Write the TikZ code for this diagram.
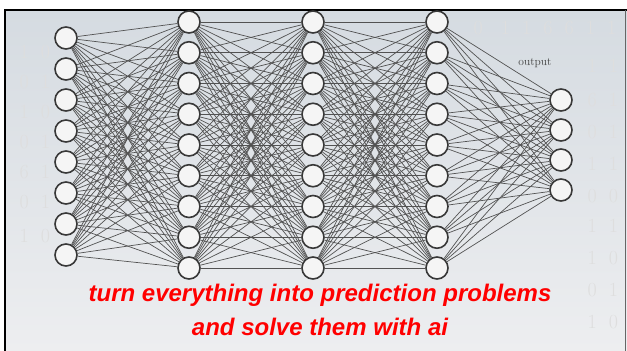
\documentclass[tikz,border=0pt]{standalone}
\usepackage{fontspec}
\newfontfamily\arialf{Liberation Sans}
\begin{document}
\begin{tikzpicture}[x=1pt,y=-1pt,
  neuron/.style={circle, minimum size=22pt, inner sep=0pt, fill=white!96!black, draw=black!78, line width=1.6pt},
  edge/.style={draw=black!68, line width=0.7pt},
  digits/.style={anchor=west, text=black!13, font=\fontsize{20}{20}\selectfont},
  slogan/.style={text=red, font=\arialf\bfseries\itshape\fontsize{24}{24}\selectfont},
  frameline/.style={draw=black, line width=2.6pt}]
\useasboundingbox (0,0) rectangle (627,351);
% background panel
\coordinate (tl) at (5,10);
\coordinate (br) at (627,351);
\shade[top color={rgb,255:red,213;green,219;blue,225}, bottom color={rgb,255:red,237;green,238;blue,240}] (tl) rectangle (br);
% faint background digits (only in open areas)
\foreach \xx/\yy/\row in {
  16/52/{1~~0}, 16/82/{0~~1}, 16/112/{1~~0}, 16/142/{0~~1}, 16/172/{6~~1},
  16/202/{0~~1}, 16/236/{1~~0},
  470/28/{0~~~1~~1~~6~~6~~1~~1},
  584/66/{1~~1}, 584/100/{6~~1}, 584/132/{0~~1}, 584/164/{1~~1},
  584/196/{0~~0}, 584/226/{1~~1}, 584/258/{1~~0}, 584/290/{0~~1}, 584/322/{1~~0}}
  \node[digits] at (\xx,\yy) {\row};
% frame
\draw[frameline] (5,351) -- (tl) -- (627,10);
\draw[draw=black!60, line width=1.3pt] (625.4,10) -- (625.4,351);
% neurons
\foreach \i in {1,...,8}
  \node[neuron] (A\i) at (66,{38+31*(\i-1)}) {};
\foreach \c/\x in {B/189,C/313,D/437}
  \foreach \i in {1,...,9}
    \node[neuron] (\c\i) at (\x,{22+30.75*(\i-1)}) {};
\foreach \i in {1,...,4}
  \node[neuron] (E\i) at (561,{100+30*(\i-1)}) {};
% connections
\foreach \i in {1,...,8}
  \foreach \j in {1,...,9}
    \draw[edge] (A\i) -- (B\j);
\foreach \i in {1,...,9}
  \foreach \j in {1,...,9} {
    \draw[edge] (B\i) -- (C\j);
    \draw[edge] (C\i) -- (D\j);
  }
\foreach \i in {1,...,9}
  \foreach \j in {1,...,4}
    \draw[edge] (D\i) -- (E\j);
% labels
\node[text=black!75, font=\fontsize{11.5}{13}\selectfont] (outlbl) at (535,63) {output};
\node[slogan] (line1) at (320,295) {turn everything into prediction problems};
\node[slogan] (line2) at (320,327) {and solve them with ai};
\end{tikzpicture}
\end{document}
